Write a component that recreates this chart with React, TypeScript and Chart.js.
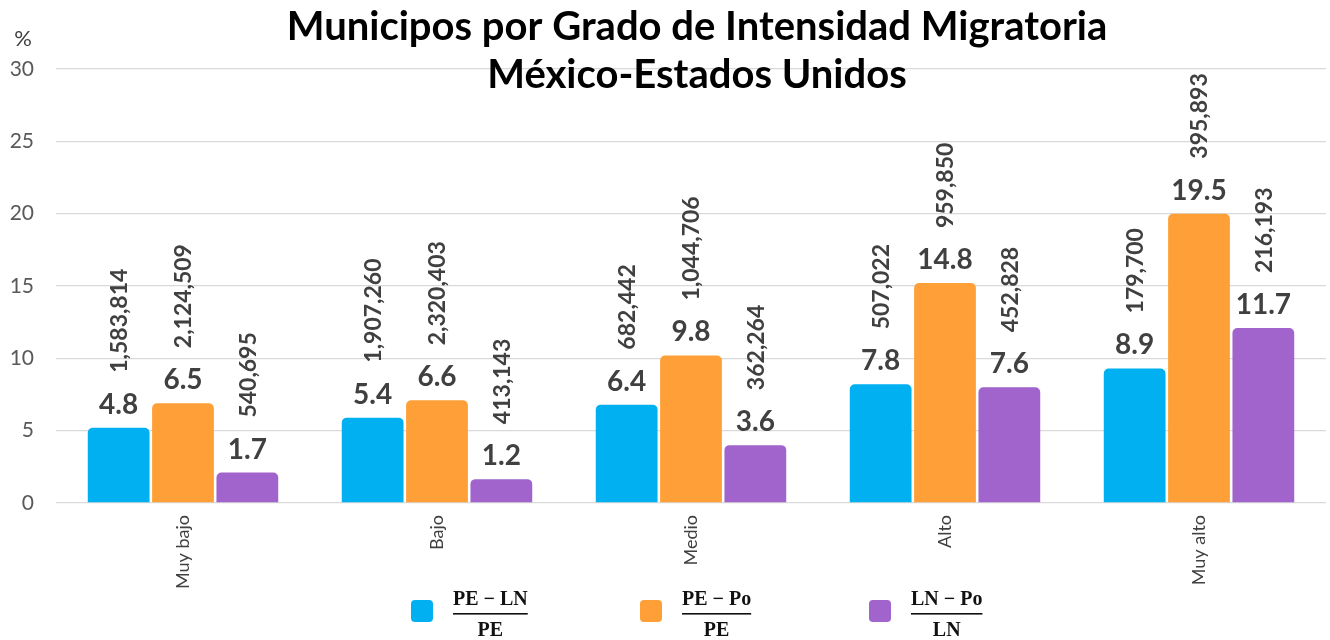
import React, { useEffect, useRef } from "react";
import { Chart, registerables } from "chart.js";

Chart.register(...registerables);

const categories = ["Muy bajo", "Bajo", "Medio", "Alto", "Muy alto"];
const titleLines = ["Municipos por Grado de Intensidad Migratoria", "México-Estados Unidos"];
const yUnit = "%";
const yTicks = [0, 5, 10, 15, 20, 25, 30];

const seriesNumerators = ["PE − LN", "PE − Po", "LN − Po"];
const seriesDenominators = ["PE", "PE", "LN"];
const seriesColors = ["#00B0F0", "#FF9F37", "#A064CC"];

// bar heights as drawn in the picture (percent)
const peLnBars = [5.2, 5.9, 6.8, 8.2, 9.3];
const pePoBars = [6.9, 7.1, 10.2, 15.2, 20.0];
const lnPoBars = [2.1, 1.65, 4.0, 8.0, 12.1];

// value labels
const peLnPct = ["4.8", "5.4", "6.4", "7.8", "8.9"];
const pePoPct = ["6.5", "6.6", "9.8", "14.8", "19.5"];
const lnPoPct = ["1.7", "1.2", "3.6", "7.6", "11.7"];

// absolute counts (rotated labels)
const peLnCounts = ["1,583,814", "1,907,260", "682,442", "507,022", "179,700"];
const pePoCounts = ["2,124,509", "2,320,403", "1,044,706", "959,850", "395,893"];
const lnPoCounts = ["540,695", "413,143", "362,264", "452,828", "216,193"];

const FONT = "Lato, 'Open Sans', sans-serif";
const TEXT = "#404040";

const pctLabels = [peLnPct, pePoPct, lnPoPct];
const countLabels = [peLnCounts, pePoCounts, lnPoCounts];

const overlayPlugin = {
  id: "overlay",
  afterDatasetsDraw(chart: any) {
    const ctx = chart.ctx;
    chart.data.datasets.forEach((ds: any, di: number) => {
      const meta = chart.getDatasetMeta(di);
      meta.data.forEach((bar: any, i: number) => {
        const x = bar.x;
        const top = bar.y;
        ctx.save();
        ctx.fillStyle = TEXT;
        ctx.font = `bold 28px ${FONT}`;
        ctx.textAlign = "center";
        ctx.textBaseline = "alphabetic";
        ctx.fillText(pctLabels[di][i], x, top - 14);
        ctx.restore();

        ctx.save();
        ctx.fillStyle = TEXT;
        ctx.font = `bold 23px ${FONT}`;
        ctx.translate(x, top - 55);
        ctx.rotate(-Math.PI / 2);
        ctx.textAlign = "left";
        ctx.textBaseline = "middle";
        ctx.fillText(countLabels[di][i], 0, 1);
        ctx.restore();
      });
    });
  },
  afterDraw(chart: any) {
    const ctx = chart.ctx;
    // title
    ctx.save();
    ctx.fillStyle = "#000000";
    ctx.font = `bold 40px ${FONT}`;
    ctx.textAlign = "center";
    ctx.textBaseline = "alphabetic";
    ctx.fillText(titleLines[0], 697, 40);
    ctx.fillText(titleLines[1], 697, 88);
    ctx.restore();
    // unit
    ctx.save();
    ctx.fillStyle = TEXT;
    ctx.font = `22px ${FONT}`;
    ctx.textAlign = "center";
    ctx.textBaseline = "middle";
    ctx.fillText(yUnit, 23, 39);
    ctx.restore();
    // legend
    const pitch = 229;
    const firstBox = 411;
    chart.data.datasets.forEach((ds: any, di: number) => {
      const bx = firstBox + di * pitch;
      const cy = 611;
      ctx.save();
      ctx.fillStyle = seriesColors[di];
      ctx.beginPath();
      (ctx as any).roundRect(bx, cy - 11, 22, 22, 4);
      ctx.fill();
      ctx.fillStyle = "#111111";
      ctx.font = `bold 20px 'Liberation Serif', 'DejaVu Serif', serif`;
      const num = seriesNumerators[di];
      const den = seriesDenominators[di];
      const nw = ctx.measureText(num).width;
      const fx = bx + 42;
      const cx = fx + nw / 2;
      ctx.textAlign = "center";
      ctx.textBaseline = "alphabetic";
      ctx.fillText(num, cx, cy - 6);
      ctx.fillRect(fx, cy + 2, nw, 1.6);
      ctx.fillText(den, cx, cy + 25);
      ctx.restore();
    });
  },
};

export default function App() {
  const ref = useRef<HTMLCanvasElement | null>(null);
  useEffect(() => {
    if (!ref.current) return;
    const datasets = [peLnBars, pePoBars, lnPoBars].map((d, i) => ({
      label: seriesNumerators[i] + " / " + seriesDenominators[i],
      data: d,
      backgroundColor: seriesColors[i],
      borderRadius: 5,
      borderSkipped: "bottom" as const,
      categoryPercentage: 0.76,
      barPercentage: 0.96,
    }));
    const chart = new Chart(ref.current, {
      type: "bar",
      data: { labels: categories, datasets },
      plugins: [overlayPlugin],
      options: {
        animation: false,
        responsive: true,
        maintainAspectRatio: false,
        layout: { padding: { top: 69, right: 4, left: 0, bottom: 0 } },
        plugins: {
          legend: { display: false },
          title: { display: false },
          tooltip: { enabled: false },
        },
        scales: {
          x: {
            grid: { display: false },
            border: { display: false },
            ticks: {
              color: TEXT,
              font: { family: FONT, size: 18 },
              maxRotation: 90,
              minRotation: 90,
              padding: 4,
            },
            afterFit: (s: any) => {
              s.height = 137;
            },
          },
          y: {
            min: 0,
            max: 30,
            afterBuildTicks: (s: any) => {
              s.ticks = yTicks.map((v) => ({ value: v }));
            },
            grid: { color: "#D9D9D9", lineWidth: 1.3, drawTicks: false },
            border: { display: false },
            ticks: {
              color: "#595959",
              font: { family: FONT, size: 21 },
              padding: 22,
            },
            afterFit: (s: any) => {
              s.width = 56;
            },
          },
        },
      },
    });
    return () => chart.destroy();
  }, []);
  return (
    <div style={{ position: "fixed", left: 0, top: 0, width: 1330, height: 640, background: "#fff" }}>
      <canvas ref={ref} />
    </div>
  );
}
